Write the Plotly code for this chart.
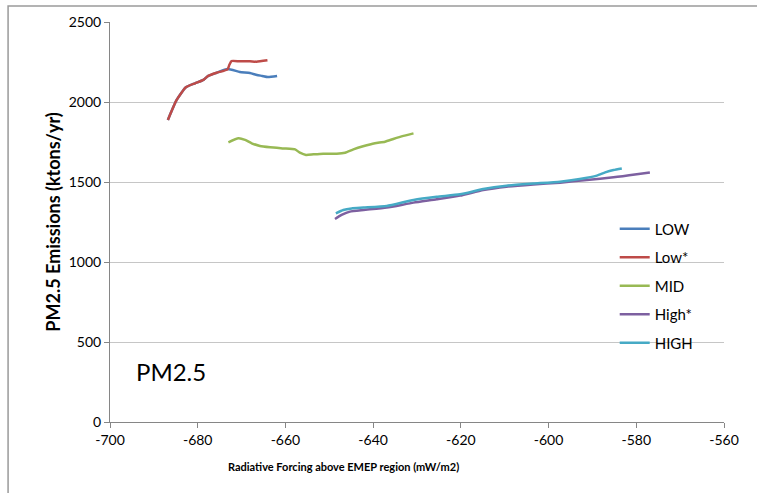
import plotly.graph_objects as go

# LOW
low_x = [-686.8, -684.8, -682.7, -680.6, -678.7, -677.6, -675.7, -673.2, -670.4, -668.1, -666.5, -665.3, -664.0, -661.9]
low_y = [1888, 2013, 2092, 2117, 2138, 2163, 2183, 2206, 2188, 2181, 2169, 2163, 2156, 2163]
# Low*
lows_x = [-686.8, -684.8, -682.7, -680.6, -678.7, -677.6, -675.7, -673.2, -672.8, -672.3, -670.4, -668.1, -666.6, -664.1]
lows_y = [1888, 2013, 2092, 2117, 2138, 2163, 2183, 2204, 2231, 2256, 2254, 2254, 2252, 2261]
# MID
mid_x = [-673.0, -670.7, -669.2, -667.7, -665.8, -663.5, -660.5, -657.8, -656.7, -655.3, -653.6, -651.4, -648.3,
         -646.4, -644.5, -642.3, -639.6, -637.3, -635.4, -633.1, -630.8]
mid_y = [1748, 1773, 1763, 1742, 1725, 1717, 1710, 1704, 1683, 1669, 1673, 1677, 1677,
         1683, 1704, 1723, 1742, 1752, 1769, 1788, 1804]
# High*
highs_x = [-648.7, -647.2, -645.3, -642.2, -636.9, -630.8, -625.5, -620.2, -614.9, -609.6, -603.5, -597.4, -591.3,
           -585.2, -579.9, -576.9]
highs_y = [1269, 1294, 1315, 1325, 1340, 1371, 1392, 1415, 1450, 1471, 1485, 1496, 1513, 1529, 1548, 1560]
# HIGH
high_x = [-648.5, -646.8, -644.9, -642.2, -636.9, -630.8, -625.5, -620.2, -614.9, -609.6, -603.5, -597.4, -592.9,
          -589.0, -587.1, -585.2, -583.3]
high_y = [1304, 1325, 1335, 1340, 1350, 1388, 1408, 1423, 1456, 1477, 1490, 1502, 1519, 1540, 1560, 1575, 1585]

x_ticks = [-700, -680, -660, -640, -620, -600, -580, -560]
x_tick_labels = ["-700", "-680", "-660", "-640", "-620", "-600", "-580", "-560"]
y_ticks = [0, 500, 1000, 1500, 2000, 2500]
y_tick_labels = ["0", "500", "1000", "1500", "2000", "2500"]

series = [
    ("LOW", low_x, low_y, "#4A7EBB"),
    ("Low*", lows_x, lows_y, "#BE4B48"),
    ("MID", mid_x, mid_y, "#98B954"),
    ("High*", highs_x, highs_y, "#7D60A0"),
    ("HIGH", high_x, high_y, "#46AAC5"),
]

FONT = "Lato"
fig = go.Figure()
for name, xs, ys, col in series:
    fig.add_trace(go.Scatter(x=xs, y=ys, mode="lines", name=name, legendgroup=name,
                             line=dict(color=col, width=2.5, shape="spline", smoothing=0.5)))

fig.update_layout(
    width=757, height=493,
    margin=dict(l=110, r=33, t=22, b=71),
    paper_bgcolor="white", plot_bgcolor="white",
    font=dict(family=FONT, size=14, color="#000000"),
    showlegend=True,
    legend=dict(x=0.822, y=0.34, xanchor="left", yanchor="middle", bgcolor="rgba(0,0,0,0)",
                font=dict(family=FONT, size=15, color="#000"), tracegroupgap=6,
                traceorder="grouped"),
    xaxis=dict(range=[-700, -560], tickvals=x_ticks, ticktext=x_tick_labels, showgrid=False, zeroline=False,
               showline=True, linecolor="#868686", linewidth=1, ticks="outside", ticklen=5,
               tickcolor="#868686", tickfont=dict(size=14)),
    yaxis=dict(range=[0, 2500], tickvals=y_ticks, ticktext=y_tick_labels, showgrid=True,
               gridcolor="#C6C6C6", gridwidth=1,
               zeroline=False, showline=True, linecolor="#868686", linewidth=1, ticks="outside",
               ticklen=5, tickcolor="#868686", tickfont=dict(size=14),
               title=dict(text="<b>PM2.5 Emissions (ktons/yr)</b>", font=dict(size=18), standoff=3)),
    annotations=[
        dict(text="PM2.5", x=-694.5, y=315, xref="x", yref="y", showarrow=False,
             xanchor="left", yanchor="middle", font=dict(size=24, family=FONT)),
        dict(text="<b>Radiative Forcing above EMEP region (mW/m2)</b>", x=0.3795, y=-0.11,
             xref="paper", yref="paper", showarrow=False, xanchor="center", yanchor="middle",
             font=dict(size=11, family=FONT)),
    ],
    shapes=[dict(type="rect", xref="paper", yref="paper", x0=-0.166, x1=1.06, y0=-0.2, y1=1.04,
                 line=dict(color="#9A9A9A", width=1.5), fillcolor="rgba(0,0,0,0)", layer="below")],
)

fig.write_html("out.html")
